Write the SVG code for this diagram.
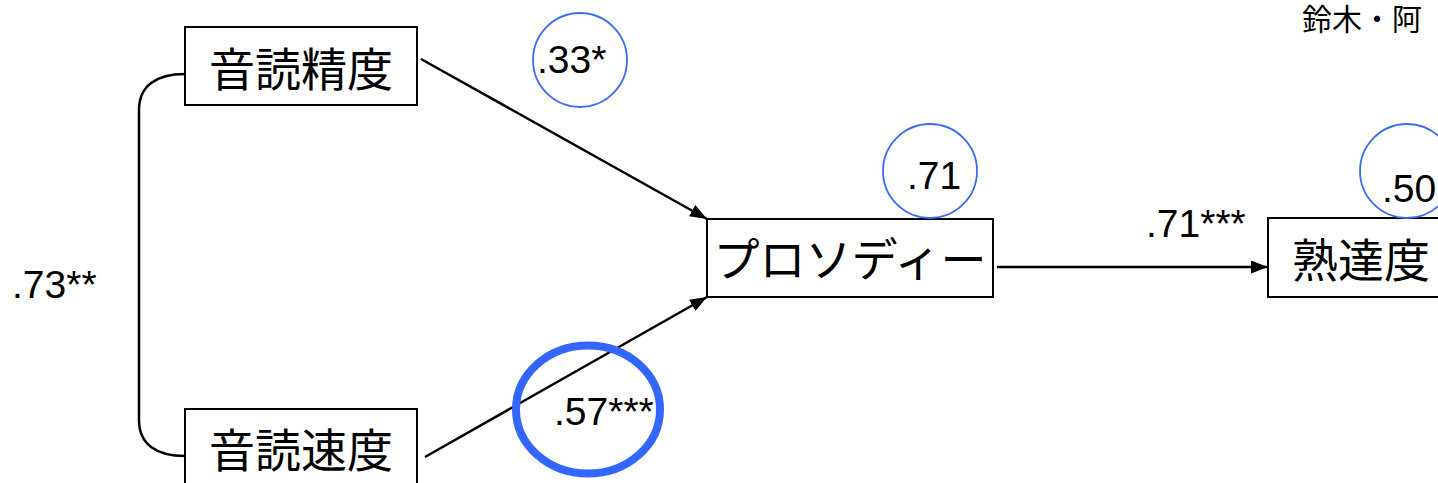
<svg xmlns="http://www.w3.org/2000/svg" width="1438" height="483" viewBox="0 0 1438 483">
  <style>
    .box { fill: #ffffff; stroke: #000000; stroke-width: 2; }
    .label { font-family: "Noto Sans CJK JP", "Noto Sans", sans-serif; font-size: 46px; fill: #000000; text-anchor: middle; }
    .num { font-family: "Liberation Sans", Arial, sans-serif; font-size: 39px; fill: #000000; }
    .edge { fill: none; stroke: #000000; stroke-width: 2.5; }
    .ring { fill: none; stroke: #3a6cf0; stroke-width: 1.8; }
    .ring-bold { fill: none; stroke: #3366ff; stroke-width: 8; }
    .title { font-family: "Noto Sans CJK JP", "Noto Sans", sans-serif; font-size: 30px; fill: #000000; }
  </style>
  <defs>
    <marker id="arrow" markerWidth="17" markerHeight="13" refX="17" refY="6.5" orient="auto" markerUnits="userSpaceOnUse">
      <path d="M0,0 L17,6.5 L0,13 Z" fill="#000000"/>
    </marker>
  </defs>

  <rect width="1438" height="483" fill="#ffffff"/>

  <!-- author line, top right -->
  <text class="title" x="1302" y="30">鈴木・阿</text>

  <!-- connectors -->
  <g id="connectors">
    <path class="edge" d="M185,74 C156,74 139,86 139,110 L139,420 C139,444 156,456 185,456" stroke-width="2"/>
    <line class="edge" x1="421" y1="59" x2="707" y2="219" marker-end="url(#arrow)"/>
    <line class="edge" x1="425" y1="457" x2="707" y2="297" marker-end="url(#arrow)"/>
    <line class="edge" x1="997" y1="267" x2="1268" y2="267" marker-end="url(#arrow)"/>
  </g>

  <!-- path coefficients -->
  <g id="coefficients">
    <text class="num" x="12" y="298">.73**</text>
    <circle class="ring" cx="580" cy="60" r="47"/>
    <text class="num" x="537" y="73">.33*</text>
    <ellipse class="ring-bold" cx="588" cy="409.5" rx="72" ry="64"/>
    <text class="num" x="554" y="425">.57***</text>
    <text class="num" x="1146" y="237">.71***</text>
  </g>

  <g id="node-accuracy">
    <rect class="box" x="185" y="27" width="232" height="78"/>
    <text class="label" x="301" y="86">音読精度</text>
  </g>

  <g id="node-speed">
    <rect class="box" x="185" y="409" width="232" height="90"/>
    <text class="label" x="301" y="467">音読速度</text>
  </g>

  <g id="node-prosody">
    <rect class="box" x="707" y="219" width="286" height="78"/>
    <text class="label" x="850" y="276">プロソディー</text>
    <circle class="ring" cx="930" cy="171" r="47"/>
    <text class="num" x="907" y="189">.71</text>
  </g>

  <g id="node-proficiency">
    <rect class="box" x="1268" y="218" width="200" height="79"/>
    <text class="label" x="1361" y="277">熟達度</text>
    <circle class="ring" cx="1407" cy="171" r="47"/>
    <text class="num" x="1382" y="202">.50</text>
  </g>
</svg>
